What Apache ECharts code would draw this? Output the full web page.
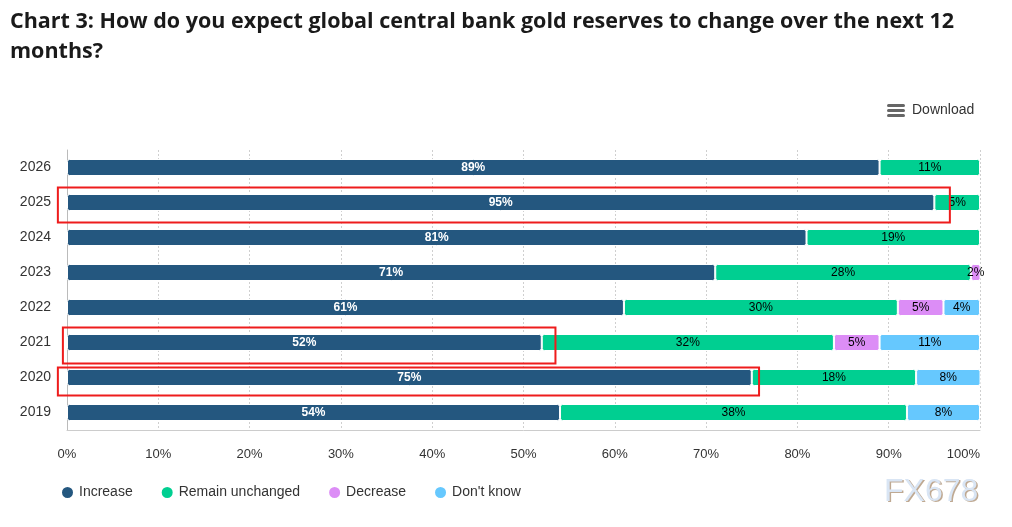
<!DOCTYPE html>
<html>
<head>
<meta charset="utf-8">
<script src="https://cdn.jsdelivr.net/npm/echarts@6/dist/echarts.min.js"></script>
<style>
  html, body { margin: 0; padding: 0; background: #fff; }
  #chart { width: 1012px; height: 527px; }
</style>
</head>
<body>
<div id="chart"></div>
<script>
// survey years, bottom to top
const years = ['2019', '2020', '2021', '2022', '2023', '2024', '2025', '2026'];
// answers in % (0 = not shown)
const increase  = [54, 75, 52, 61, 71, 81, 95, 89];
const unchanged = [38, 18, 32, 30, 28, 19, 5, 11];
const decrease  = [0, 0, 5, 5, 2, 0, 0, 0];
const dontKnow  = [8, 8, 11, 4, 0, 0, 0, 0];
const xTicks = [0, 10, 20, 30, 40, 50, 60, 70, 80, 90, 100];

// red boxes drawn on top: year, from %, to %, extra px above / below the bar centre
const highlights = [
  { year: '2025', from: -1.0, to: 96.7, up: 15, down: 20 },
  { year: '2021', from: -0.45, to: 53.5, up: 15, down: 21 },
  { year: '2020', from: -1.0, to: 75.8, up: 10, down: 18 }
];

const names = ['Increase', 'Remain unchanged', 'Decrease', "Don't know"];
const colors = ['#24577f', '#00cf91', '#dc8df6', '#66c8fe'];
const raw = [increase, unchanged, decrease, dontKnow];

const chart = echarts.init(document.getElementById('chart'));

// rounded answers can add up to 101, the axis just cuts the last bit off
const series = raw.map((arr, k) => ({
  name: names[k],
  type: 'bar',
  stack: 'all',
  barWidth: 17,
  itemStyle: { color: colors[k], borderColor: '#fff', borderWidth: 1, borderRadius: 2 },
  label: {
    show: true,
    position: 'inside',
    fontFamily: 'Liberation Sans, Arial, sans-serif',
    fontSize: 12,
    fontWeight: k === 0 ? 'bold' : 'normal',
    color: k === 0 ? '#fff' : '#000',
    formatter: p => p.value + '%'
  },
  data: arr.map(v => (v ? v : null))
}));

const options = {
  animation: false,
  textStyle: { fontFamily: 'Liberation Sans, Arial, sans-serif' },
  title: {
    text: 'Chart 3: How do you expect global central bank gold reserves to change over the next 12\nmonths?',
    left: 10,
    top: 7,
    padding: 0,
    textStyle: {
      fontFamily: 'Open Sans, Noto Sans, sans-serif',
      fontSize: 21.5,
      fontWeight: 'bold',
      color: '#1a1a1a',
      lineHeight: 30
    }
  },
  legend: {
    data: names,
    left: 55,
    top: 480,
    icon: 'circle',
    itemWidth: 13,
    itemHeight: 13,
    itemGap: 27,
    textStyle: { fontSize: 14, color: '#333' }
  },
  grid: { left: 67, right: 32, top: 150, bottom: 97, containLabel: false },
  xAxis: {
    type: 'value',
    min: 0,
    max: 100,
    interval: 10,
    axisLine: { show: true, lineStyle: { color: '#ccc' } },
    axisTick: { show: false },
    axisLabel: {
      color: '#333',
      fontSize: 13,
      margin: 18,
      alignMaxLabel: 'right',
      formatter: v => (xTicks.indexOf(v) >= 0 ? v + '%' : '')
    },
    splitLine: { show: true, lineStyle: { color: '#cfcfcf', type: [2, 2] } }
  },
  yAxis: {
    type: 'category',
    data: years,
    axisLine: { show: true, lineStyle: { color: '#bbb' } },
    axisTick: { show: false },
    axisLabel: { color: '#333', fontSize: 14, margin: 16 }
  },
  series: series
};

chart.setOption(options);

// header button and watermark, plus the red highlight boxes
const wmFont = '32px Liberation Sans, Arial, sans-serif';
const graphics = [
  { type: 'rect', left: 887, top: 104, shape: { width: 18, height: 3, r: 1.5 }, style: { fill: '#666' } },
  { type: 'rect', left: 887, top: 109, shape: { width: 18, height: 3, r: 1.5 }, style: { fill: '#666' } },
  { type: 'rect', left: 887, top: 114, shape: { width: 18, height: 3, r: 1.5 }, style: { fill: '#666' } },
  { type: 'text', left: 912, top: 103, style: { text: 'Download', font: '14px Liberation Sans, Arial, sans-serif', fill: '#333' } },
  // watermark: brownish copy underneath gives the shadow
  { type: 'text', left: 885.5, top: 477.5, style: { text: 'FX678', font: wmFont, fill: 'rgba(170,140,110,0.75)' } },
  { type: 'text', left: 884, top: 476, style: { text: 'FX678', font: wmFont, fill: '#d9e5f4' } }
];

highlights.forEach(h => {
  const a = chart.convertToPixel({ gridIndex: 0 }, [h.from, h.year]);
  const b = chart.convertToPixel({ gridIndex: 0 }, [h.to, h.year]);
  graphics.push({
    type: 'rect',
    z: 100,
    shape: { x: a[0], y: a[1] - h.up, width: b[0] - a[0], height: h.up + h.down },
    style: { fill: 'none', stroke: '#ee1c1c', lineWidth: 2 }
  });
});

chart.setOption({ graphic: graphics });
</script>
</body>
</html>
